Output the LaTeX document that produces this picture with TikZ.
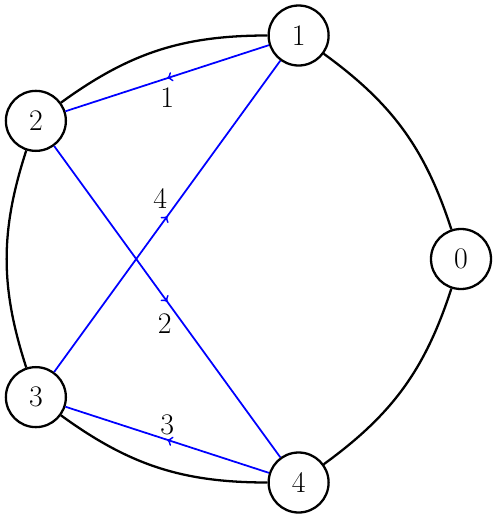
\documentclass[tikz,border=0pt]{standalone}
\usetikzlibrary{decorations.markings}
\begin{document}
\begin{tikzpicture}[
  vertex/.style={draw, circle, line width=1.3pt, minimum size=1.2cm, inner sep=0pt, font=\fontsize{17}{20}\selectfont},
  ring/.style={line width=1.3pt},
  flow/.style={blue, line width=1pt, postaction={decorate},
    decoration={markings, mark=at position 0.5 with {\arrow{>}}}},
  weight/.style={black, font=\fontsize{17}{20}\selectfont}]

  \useasboundingbox (-4.52,-5.2) rectangle (5.48,5.18);

  \foreach \i in {0,...,4}
    \node[vertex] (v\i) at ({72*\i}:4.7cm) {\i};

  \foreach \i [evaluate=\i as \j using {int(mod(\i+1,5))}] in {0,...,4}
    \draw[ring] (v\i) to[bend right=18] (v\j);

  \draw[flow] (v1) -- node[weight, below=0.06cm] {1} (v2);
  \draw[flow] (v3) -- node[weight, above=0.02cm, xshift=-0.14cm] {4} (v1);
  \draw[flow] (v2) -- node[weight, below=0.1cm, xshift=-0.05cm] {2} (v4);
  \draw[flow] (v4) -- node[weight, above=-0.04cm] {3} (v3);
  \end{tikzpicture}
\end{document}
